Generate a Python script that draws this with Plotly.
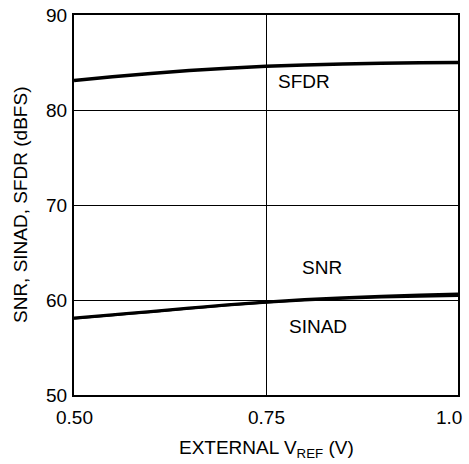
import plotly.graph_objects as go

vref = [0.50, 0.55, 0.60, 0.65, 0.70, 0.75, 0.80, 0.85, 0.90, 0.95, 1.00]
sfdr = [83.1, 83.5, 83.85, 84.15, 84.4, 84.6, 84.75, 84.85, 84.92, 84.97, 85.0]
snr = [58.1, 58.45, 58.8, 59.15, 59.5, 59.8, 60.05, 60.25, 60.4, 60.52, 60.62]
sinad = [58.05, 58.4, 58.75, 59.1, 59.45, 59.75, 59.98, 60.15, 60.28, 60.38, 60.45]

x_tickvals = [0.5, 0.75, 1.0]
x_ticktext = ["0.50", "0.75", "1.0"]
y_tickvals = [50, 60, 70, 80, 90]
y_ticktext = ["50", "60", "70", "80", "90"]

labels = ["SFDR", "SNR", "SINAD"]
label_x = [0.80, 0.823, 0.818]
label_y = [82.95, 63.4, 57.2]

FONT = "Liberation Sans, Arial, sans-serif"
FS = 19

fig = go.Figure()
for name, ys, w in [("SFDR", sfdr, 3.5), ("SNR", snr, 3), ("SINAD", sinad, 2.5)]:
    fig.add_trace(go.Scatter(x=vref, y=ys, mode="lines", name=name,
                             line=dict(color="black", width=w, shape="spline")))

for t, x, y in zip(labels, label_x, label_y):
    fig.add_annotation(x=x, y=y, text=t, showarrow=False,
                       font=dict(size=FS, color="black", family=FONT))

# x tick labels placed through the x scale (last one right-aligned to stay inside)
for v, t in zip(x_tickvals, x_ticktext):
    last = v == x_tickvals[-1]
    fig.add_annotation(x=v, xref="x", y=0, yref="paper", yanchor="top",
                       xanchor="right" if last else "center",
                       xshift=6 if last else 0, yshift=-10,
                       text=t, showarrow=False,
                       font=dict(size=FS, color="black", family=FONT))

# y tick labels placed through the y scale
for v, t in zip(y_tickvals, y_ticktext):
    fig.add_annotation(x=0, xref="paper", y=v, yref="y", xanchor="right",
                       yanchor="middle", xshift=-5, text=t, showarrow=False,
                       font=dict(size=FS, color="black", family=FONT))

fig.add_annotation(x=0.5, xref="paper", y=0, yref="paper", yanchor="top",
                   yshift=-40, text="EXTERNAL V<sub>REF</sub> (V)", showarrow=False,
                   font=dict(size=FS, color="black", family=FONT))
fig.add_annotation(x=0, xref="paper", y=0.5, yref="paper", xanchor="center",
                   xshift=-54, textangle=-90, text="SNR, SINAD, SFDR (dBFS)",
                   showarrow=False, font=dict(size=FS, color="black", family=FONT))

fig.update_layout(
    width=469, height=464,
    margin=dict(l=74, r=11, t=15, b=69, autoexpand=False),
    paper_bgcolor="white", plot_bgcolor="white",
    showlegend=False, hovermode=False,
    font=dict(family=FONT, size=FS, color="black"),
)
fig.update_xaxes(
    range=[0.5, 1.0], tickvals=x_tickvals, showticklabels=False,
    showgrid=True, gridcolor="black", gridwidth=1,
    showline=True, linecolor="black", linewidth=1.5, mirror=True,
    ticks="", zeroline=False, automargin=False,
)
fig.update_yaxes(
    range=[50, 90], tickvals=y_tickvals, showticklabels=False,
    showgrid=True, gridcolor="black", gridwidth=1,
    showline=True, linecolor="black", linewidth=1.5, mirror=True,
    ticks="", zeroline=False, automargin=False,
)

fig.write_html("out.html", config={"displayModeBar": False},
               post_script="document.body.style.margin='0';document.body.style.overflow='hidden';")
